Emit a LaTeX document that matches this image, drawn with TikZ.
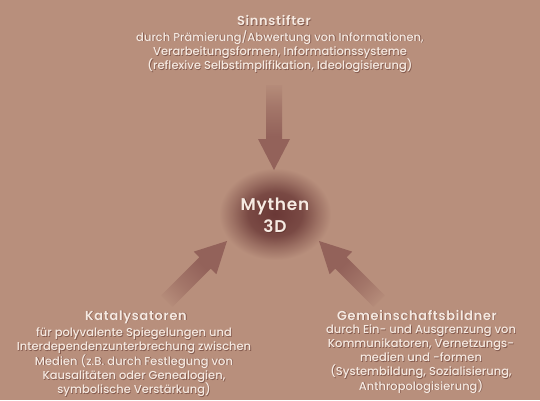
\documentclass[tikz,border=0pt]{standalone}
\usepackage{fontspec}
\setmainfont{Poppins}[UprightFont=* Medium, BoldFont=* SemiBold]
\usetikzlibrary{positioning}

\definecolor{bgc}{HTML}{B88F7C}
\definecolor{arrc}{HTML}{93625A}
\definecolor{glowc}{HTML}{6A3836}
\definecolor{txtc}{HTML}{F6EAE2}
\definecolor{shadc}{HTML}{5A3028}

\pgfdeclareverticalshading{arrowfade}{100bp}{color(0bp)=(arrc); color(45bp)=(arrc); color(62bp)=(arrc!55!bgc); color(75bp)=(arrc!8!bgc); color(100bp)=(bgc)}
\pgfdeclareradialshading{glowfade}{\pgfpoint{0bp}{0bp}}{color(0bp)=(glowc); color(12bp)=(glowc!80!bgc); color(19bp)=(glowc!35!bgc); color(25bp)=(bgc); color(50bp)=(bgc)}

% text twice: soft shadow first, then the light text
\newcommand\shadetext[3]{%
  \node[#1, text=shadc, text opacity=.55, xshift=.8pt, yshift=-.8pt] {#3};
  \node[#1] (#2) {#3}}

\tikzset{
  titel/.style={text=txtc, inner sep=0pt, font=\addfontfeatures{LetterSpace=5}\bfseries\fontsize{13}{15}\selectfont},
  body/.style={text=txtc, inner sep=0pt, align=center, font=\fontsize{11.5}{14.2}\selectfont},
  kern/.style={text=txtc, inner sep=0pt, align=center, font=\addfontfeatures{LetterSpace=4}\bfseries\fontsize{17}{22.5}\selectfont}
}

\begin{document}
\begin{tikzpicture}[x=1pt,y=1pt]
\useasboundingbox (0,0) rectangle (540,400);
\fill[bgc] (0,0) rectangle (540,400);

% glow
\shade[shading=glowfade] (275,186) ellipse[x radius=56, y radius=46];

\coordinate (tipS) at (274,230);
\coordinate (tipK) at (227,159);
\coordinate (tipG) at (319,159);

\foreach \p/\r in {tipS/0, tipK/135, tipG/-135}{
\begin{scope}[transform canvas={shift={(\p)}, rotate=\r}]
\shade[shading=arrowfade] (-8,85) -- (-8,31) -- (-16,31) -- (0,0) -- (16,31) -- (8,31) -- (8,85) -- cycle;
\end{scope}
}

\shadetext{kern, at={(275,185)}}{mythen}{Mythen\\3D};

\shadetext{titel, anchor=base, at={(274,374.3)}}{sinnTitle}{Sinnstifter};
\shadetext{body, below=4pt of sinnTitle, xshift=6pt}{sinnText}{durch Prämierung/Abwertung von Informationen,\\Verarbeitungsformen, Informationssysteme\\(reflexive Selbstimplifikation, Ideologisierung)};

\shadetext{titel, anchor=base, at={(136,80)}}{kataTitle}{Katalysatoren};
\shadetext{body, below=4pt of kataTitle, xshift=-2pt}{kataText}{für polyvalente Spiegelungen und\\Interdependenzunterbrechung zwischen\\Medien (z.B. durch Festlegung von\\Kausalitäten oder Genealogien,\\symbolische Verstärkung)};

\shadetext{titel, anchor=base, at={(417,80)}}{gemTitle}{Gemeinschaftsbildner};
\shadetext{body, below=4pt of gemTitle, xshift=4pt}{gemText}{durch Ein- und Ausgrenzung von\\Kommunikatoren, Vernetzungs-\\medien und -formen\\(Systembildung, Sozialisierung,\\Anthropologisierung)};
\end{tikzpicture}
\end{document}
